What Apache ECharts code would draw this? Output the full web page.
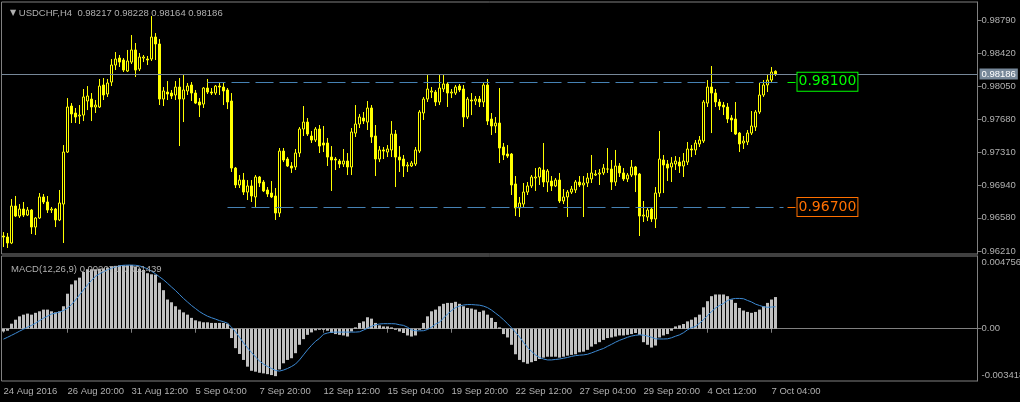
<!DOCTYPE html>
<html><head><meta charset="utf-8">
<script src="https://cdn.jsdelivr.net/npm/echarts@6/dist/echarts.min.js"></script>
<style>html,body{margin:0;padding:0;background:#000}#c{width:1020px;height:402px}</style>
</head><body><div id="c"></div><script>
const symbol = 'USDCHF', timeframe = 'H4';
const openP = [0.96377,0.96366,0.96299,0.96712,0.96600,0.96678,0.96611,0.96667,0.96477,0.96578,
0.96813,0.96757,0.96667,0.96678,0.96556,0.96734,0.97315,0.97829,0.97751,0.97717,
0.97728,0.97885,0.97907,0.97818,0.97818,0.98064,0.97963,0.98097,0.98287,0.98365,
0.98343,0.98220,0.98320,0.98455,0.98242,0.98365,0.98354,0.98354,0.98600,0.98522,
0.97907,0.97985,0.97974,0.97952,0.98041,0.97907,0.97997,0.98064,0.97974,0.97874,
0.97851,0.98030,0.97985,0.97974,0.98052,0.98041,0.98008,0.97885,0.97136,0.96947,
0.97002,0.96868,0.96936,0.96813,0.97036,0.96980,0.96891,0.96857,0.96824,0.96634,
0.97326,0.97237,0.97159,0.97148,0.97304,0.97572,0.97650,0.97494,0.97449,0.97572,
0.97416,0.97416,0.97259,0.97237,0.97215,0.97181,0.97215,0.97148,0.97527,0.97628,
0.97695,0.97650,0.97807,0.97494,0.97237,0.97338,0.97315,0.97338,0.97516,0.97259,
0.97237,0.97159,0.97159,0.97181,0.97326,0.97751,0.97907,0.97985,0.97985,0.97874,
0.98019,0.98075,0.97974,0.97974,0.98052,0.98019,0.97706,0.97896,0.97885,0.97907,
0.97874,0.98064,0.97684,0.97606,0.97639,0.97371,0.97293,0.97293,0.96958,0.96690,
0.96734,0.96868,0.96936,0.97025,0.97036,0.97114,0.96980,0.96991,0.96936,0.97002,
0.96768,0.96813,0.96868,0.96891,0.96980,0.96947,0.96969,0.97014,0.97058,0.97069,
0.97081,0.97125,0.97125,0.96980,0.97159,0.97081,0.97014,0.97058,0.97148,0.97069,
0.96600,0.96589,0.96678,0.96567,0.96857,0.97226,0.97181,0.97148,0.97181,0.97203,
0.97159,0.97203,0.97349,0.97338,0.97405,0.97438,0.97862,0.98041,0.97974,0.97874,
0.97840,0.97818,0.97695,0.97684,0.97527,0.97416,0.97427,0.97527,0.97594,0.97762,
0.97952,0.98064,0.98119,0.98217];
const highP = [0.96421,0.96410,0.96790,0.96824,0.96734,0.96757,0.96701,0.96678,0.96589,0.96857,
0.96846,0.96824,0.96701,0.96690,0.96891,0.97393,0.97918,0.97862,0.97807,0.97840,
0.98019,0.98052,0.97974,0.97896,0.98131,0.98142,0.98131,0.98354,0.98432,0.98399,
0.98365,0.98455,0.98622,0.98533,0.98421,0.98399,0.98388,0.98834,0.98644,0.98577,
0.98041,0.98108,0.98008,0.98108,0.98142,0.98175,0.98086,0.98097,0.98008,0.97918,
0.98041,0.98131,0.98030,0.98064,0.98097,0.98086,0.98030,0.97974,0.97148,0.97058,
0.97081,0.97002,0.97002,0.97058,0.97047,0.97002,0.96924,0.96991,0.96913,0.97360,
0.97360,0.97259,0.97203,0.97349,0.97594,0.97829,0.97695,0.97550,0.97594,0.97617,
0.97606,0.97472,0.97382,0.97259,0.97237,0.97349,0.97304,0.97583,0.97840,0.97740,
0.97762,0.97885,0.97840,0.97617,0.97382,0.97371,0.97393,0.97661,0.97561,0.97382,
0.97282,0.97203,0.97215,0.97371,0.97784,0.97930,0.98175,0.98041,0.98008,0.98175,
0.98175,0.98097,0.98019,0.98064,0.98075,0.98064,0.97930,0.97974,0.97941,0.97941,
0.98097,0.98131,0.97751,0.97706,0.98030,0.97416,0.97393,0.97304,0.97047,0.96813,
0.96969,0.96980,0.97058,0.97136,0.97148,0.97416,0.97125,0.97047,0.97025,0.97081,
0.96902,0.96891,0.96936,0.97002,0.97047,0.97047,0.97081,0.97282,0.97114,0.97125,
0.97181,0.97360,0.97226,0.97338,0.97192,0.97136,0.97081,0.97226,0.97159,0.97081,
0.96768,0.96690,0.96690,0.96924,0.97550,0.97282,0.97226,0.97259,0.97270,0.97259,
0.97304,0.97427,0.97393,0.97449,0.97494,0.97896,0.98119,0.98276,0.98019,0.97907,
0.97874,0.97862,0.97728,0.97874,0.97539,0.97494,0.97561,0.97773,0.97784,0.98086,
0.98119,0.98187,0.98265,0.98228];
const lowP = [0.96254,0.96243,0.96287,0.96589,0.96578,0.96589,0.96600,0.96399,0.96388,0.96567,
0.96734,0.96634,0.96634,0.96477,0.96544,0.96299,0.97304,0.97639,0.97639,0.97628,
0.97661,0.97784,0.97661,0.97751,0.97807,0.97896,0.97930,0.98052,0.98231,0.98265,
0.98209,0.98209,0.98298,0.98153,0.98220,0.98320,0.98287,0.98332,0.98343,0.97840,
0.97829,0.97896,0.97907,0.97896,0.97382,0.97650,0.97952,0.97885,0.97851,0.97706,
0.97807,0.97963,0.97952,0.97952,0.97952,0.97840,0.97795,0.97092,0.96913,0.96913,
0.96835,0.96779,0.96757,0.96690,0.96924,0.96868,0.96813,0.96801,0.96556,0.96589,
0.97203,0.97148,0.97081,0.97114,0.97259,0.97494,0.97494,0.97416,0.97427,0.97304,
0.97315,0.97159,0.96880,0.97114,0.97136,0.97148,0.97058,0.97058,0.97483,0.97583,
0.97628,0.97561,0.97416,0.97047,0.97203,0.97237,0.97259,0.97259,0.96924,0.97092,
0.97036,0.97092,0.97148,0.97159,0.97304,0.97673,0.97874,0.97918,0.97829,0.97840,
0.97985,0.97818,0.97918,0.97952,0.97985,0.97594,0.97684,0.97728,0.97840,0.97818,
0.97818,0.97617,0.97505,0.97527,0.97192,0.97226,0.97248,0.96835,0.96600,0.96589,
0.96701,0.96835,0.96913,0.96880,0.96947,0.96924,0.96868,0.96880,0.96924,0.96746,
0.96734,0.96589,0.96846,0.96857,0.96924,0.96589,0.96924,0.96969,0.97047,0.96947,
0.97058,0.97081,0.96891,0.96936,0.97036,0.96991,0.96980,0.97036,0.96868,0.96377,
0.96533,0.96544,0.96533,0.96466,0.96813,0.96857,0.96991,0.96980,0.97114,0.97081,
0.97036,0.97170,0.97259,0.97282,0.97371,0.97416,0.97818,0.97527,0.97818,0.97784,
0.97728,0.97639,0.97539,0.97505,0.97315,0.97349,0.97393,0.97505,0.97550,0.97740,
0.97930,0.97985,0.98086,0.98164];
const closeP = [0.96366,0.96299,0.96712,0.96600,0.96678,0.96611,0.96667,0.96477,0.96578,0.96813,
0.96757,0.96667,0.96678,0.96556,0.96746,0.97315,0.97818,0.97740,0.97706,0.97728,
0.97930,0.97941,0.97818,0.97840,0.98052,0.97952,0.98086,0.98287,0.98354,0.98320,
0.98231,0.98332,0.98455,0.98231,0.98376,0.98376,0.98343,0.98600,0.98522,0.97907,
0.97997,0.97963,0.97941,0.98041,0.97907,0.98008,0.98052,0.97974,0.97862,0.97840,
0.98030,0.97985,0.97974,0.98052,0.98041,0.97997,0.97874,0.97136,0.96947,0.97002,
0.96868,0.96936,0.96824,0.97036,0.96969,0.96880,0.96846,0.96813,0.96634,0.97326,
0.97226,0.97159,0.97136,0.97304,0.97572,0.97650,0.97516,0.97449,0.97572,0.97382,
0.97393,0.97259,0.97226,0.97226,0.97181,0.97215,0.97148,0.97539,0.97628,0.97706,
0.97661,0.97807,0.97483,0.97237,0.97338,0.97326,0.97349,0.97516,0.97259,0.97226,
0.97159,0.97170,0.97192,0.97338,0.97762,0.97907,0.98019,0.97997,0.97874,0.98030,
0.98075,0.97974,0.97985,0.98041,0.98008,0.97706,0.97907,0.97885,0.97907,0.97874,
0.98064,0.97661,0.97606,0.97639,0.97360,0.97282,0.97270,0.96947,0.96690,0.96746,
0.96868,0.96936,0.97036,0.97036,0.97136,0.96980,0.97103,0.96936,0.97002,0.96768,
0.96813,0.96868,0.96902,0.96980,0.96947,0.96969,0.97025,0.97081,0.97069,0.97081,
0.97136,0.97125,0.96980,0.97159,0.97081,0.97014,0.97058,0.97148,0.97058,0.96600,
0.96611,0.96667,0.96567,0.96857,0.97237,0.97170,0.97136,0.97192,0.97215,0.97159,
0.97215,0.97349,0.97338,0.97416,0.97449,0.97874,0.98041,0.97974,0.97874,0.97829,
0.97818,0.97684,0.97673,0.97516,0.97405,0.97438,0.97527,0.97606,0.97762,0.97952,
0.98064,0.98119,0.98209,0.98186];
const macdMain = [-0.00018,-0.00013,0.00033,0.00059,0.00081,0.00092,0.00099,0.00092,0.00104,0.00114,
0.00125,0.00125,0.00114,0.00107,0.00114,0.00147,0.00229,0.00290,0.00316,0.00334,
0.00371,0.00389,0.00389,0.00389,0.00393,0.00395,0.00400,0.00407,0.00411,0.00415,
0.00415,0.00415,0.00417,0.00407,0.00393,0.00384,0.00363,0.00356,0.00354,0.00301,
0.00252,0.00191,0.00173,0.00147,0.00125,0.00107,0.00092,0.00071,0.00055,0.00048,
0.00042,0.00042,0.00038,0.00038,0.00038,0.00038,0.00033,-0.00061,-0.00127,-0.00165,
-0.00204,-0.00248,-0.00275,-0.00281,-0.00288,-0.00292,-0.00297,-0.00303,-0.00310,-0.00266,
-0.00226,-0.00204,-0.00193,-0.00160,-0.00105,-0.00068,-0.00040,-0.00024,-0.00011,-0.00007,
-0.00007,-0.00013,-0.00028,-0.00035,-0.00040,-0.00044,-0.00051,-0.00018,0.00009,0.00038,
0.00048,0.00075,0.00066,0.00038,0.00022,0.00015,0.00015,0.00009,-0.00007,-0.00018,
-0.00028,-0.00044,-0.00051,-0.00044,-0.00007,0.00038,0.00081,0.00114,0.00125,0.00147,
0.00163,0.00169,0.00169,0.00176,0.00163,0.00147,0.00136,0.00132,0.00125,0.00110,
0.00119,0.00092,0.00071,0.00044,0.00009,-0.00035,-0.00057,-0.00105,-0.00167,-0.00204,
-0.00219,-0.00229,-0.00219,-0.00211,-0.00198,-0.00189,-0.00183,-0.00183,-0.00183,-0.00189,
-0.00183,-0.00176,-0.00171,-0.00167,-0.00154,-0.00150,-0.00138,-0.00117,-0.00101,-0.00088,
-0.00073,-0.00061,-0.00057,-0.00051,-0.00044,-0.00044,-0.00040,-0.00035,-0.00028,-0.00040,
-0.00088,-0.00105,-0.00123,-0.00110,-0.00057,-0.00044,-0.00035,-0.00013,0.00015,0.00022,
0.00031,0.00048,0.00059,0.00075,0.00092,0.00140,0.00180,0.00213,0.00224,0.00224,
0.00224,0.00213,0.00191,0.00169,0.00136,0.00119,0.00110,0.00104,0.00110,0.00125,
0.00147,0.00169,0.00191,0.002071];
const macdSignal = [-0.00068,-0.00056,-0.00043,-0.00030,-0.00016,-0.00003,0.00010,0.00022,0.00036,0.00053,
0.00069,0.00082,0.00096,0.00102,0.00109,0.00119,0.00135,0.00158,0.00188,0.00221,
0.00254,0.00287,0.00316,0.00343,0.00359,0.00372,0.00386,0.00395,0.00404,0.00411,
0.00415,0.00416,0.00416,0.00415,0.00411,0.00402,0.00392,0.00376,0.00359,0.00339,
0.00320,0.00297,0.00273,0.00250,0.00224,0.00198,0.00175,0.00152,0.00132,0.00112,
0.00096,0.00082,0.00072,0.00063,0.00053,0.00046,0.00036,0.00010,-0.00020,-0.00056,
-0.00092,-0.00125,-0.00155,-0.00185,-0.00211,-0.00231,-0.00247,-0.00260,-0.00273,-0.00277,
-0.00270,-0.00260,-0.00247,-0.00231,-0.00204,-0.00171,-0.00138,-0.00109,-0.00082,-0.00063,
-0.00036,-0.00028,-0.00023,-0.00022,-0.00022,-0.00022,-0.00022,-0.00022,-0.00022,-0.00020,
-0.00009,0.00003,0.00016,0.00026,0.00031,0.00033,0.00033,0.00033,0.00032,0.00026,
0.00022,0.00010,-0.00007,-0.00013,-0.00014,-0.00013,-0.00005,0.00010,0.00030,0.00043,
0.00069,0.00096,0.00119,0.00138,0.00148,0.00155,0.00158,0.00158,0.00156,0.00154,
0.00148,0.00138,0.00122,0.00102,0.00082,0.00059,0.00033,0.00007,-0.00023,-0.00053,
-0.00089,-0.00122,-0.00148,-0.00171,-0.00188,-0.00198,-0.00204,-0.00204,-0.00201,-0.00198,
-0.00193,-0.00188,-0.00181,-0.00176,-0.00173,-0.00171,-0.00167,-0.00158,-0.00148,-0.00138,
-0.00129,-0.00115,-0.00102,-0.00088,-0.00076,-0.00066,-0.00056,-0.00048,-0.00043,-0.00040,
-0.00042,-0.00048,-0.00056,-0.00066,-0.00067,-0.00067,-0.00066,-0.00059,-0.00049,-0.00040,
-0.00026,-0.00007,0.00007,0.00015,0.00036,0.00059,0.00086,0.00112,0.00135,0.00152,
0.00165,0.00185,0.00194,0.00198,0.00198,0.00196,0.00185,0.00175,0.00161,0.00152,
0.00144,0.00140,0.00142,0.001439];
const priceTicks = [0.98790,0.98420,0.98050,0.97680,0.97310,0.96940,0.96580,0.96210];
const priceMin = 0.96176, priceMax = 0.98991;
const macdTicks = [-0.003418, 0, 0.004756];
const timeLabels = ['24 Aug 2016','26 Aug 20:00','31 Aug 12:00','5 Sep 04:00','7 Sep 20:00','12 Sep 12:00',
  '15 Sep 04:00','19 Sep 20:00','22 Sep 12:00','27 Sep 04:00','29 Sep 20:00','4 Oct 12:00','7 Oct 04:00'];
const labelEvery = 16;
const levelLines = [
  {value: 0.98100, color: '#00ff00', fromBar: 51},
  {value: 0.96700, color: '#ff7000', fromBar: 56}
];
const lineToBar = 195, tagFromBar = 196, tagToBar = 198, totalSlots = 244;

// bar times (H4, weekdays only), then empty future slots (chart shift)
const MON = ['Jan','Feb','Mar','Apr','May','Jun','Jul','Aug','Sep','Oct','Nov','Dec'];
const cats = [];
let t = Date.UTC(2016, 7, 24, 4);
while (cats.length < openP.length) {
  const d = new Date(t), wd = d.getUTCDay();
  if (wd !== 0 && wd !== 6) cats.push(d.getUTCDate() + ' ' + MON[d.getUTCMonth()] + ' ' + String(d.getUTCHours()).padStart(2,'0') + ':00');
  t += 4 * 3600e3;
}
for (let i = cats.length; i < totalSlots; i++) cats.push('slot' + i);

const N = openP.length, last = N - 1;
const FONT = "'Liberation Sans',Arial,sans-serif";
const FS = 9.5;
const TXT = '#b0b0b0', AX = '#808080';
const f5 = v => v.toFixed(5);
const showIdx = i => i % labelEvery === 0 && i < N;

const candles = openP.map((o, i) => [o, closeP[i], lowP[i], highP[i]]);

const markData = [
  {yAxis: closeP[last], lineStyle: {color: '#778899', type: 'solid', width: 1},
   label: {show: true, position: 'end', distance: 2, formatter: f5(closeP[last]),
     backgroundColor: '#778899', color: '#ffffff', padding: [1, 2, 0, 2],
     fontFamily: FONT, fontSize: FS}}
];
levelLines.forEach(l => {
  markData.push([{coord: [l.fromBar, l.value], lineStyle: {color: '#4682b4', type: [18, 6], width: 1}, label: {show: false}},
                 {coord: [lineToBar, l.value]}]);
  markData.push([{coord: [tagFromBar, l.value], lineStyle: {color: l.color, type: 'solid', width: 1},
                  label: {show: true, position: 'end', distance: 2, formatter: f5(l.value), color: l.color,
                    borderColor: l.color, borderWidth: 1, backgroundColor: '#000', padding: [2, 1, 1, 1],
                    fontFamily: "'DejaVu Sans',sans-serif", fontSize: 14, lineHeight: 15}},
                 {coord: [tagToBar, l.value]}]);
});

const chart = echarts.init(document.getElementById('c'), null, {renderer: 'canvas'});
chart.setOption({
  backgroundColor: '#000',
  animation: false,
  title: [
    {text: '{tri|▼} ' + symbol + ',' + timeframe + '  ' + [openP[last], highP[last], lowP[last], closeP[last]].map(f5).join(' '),
     left: 5, top: 3,
     textStyle: {color: TXT, fontFamily: FONT, fontSize: FS, fontWeight: 'normal',
       rich: {tri: {fontSize: 8, color: TXT, fontFamily: "'DejaVu Sans',sans-serif"}}}},
    {text: 'MACD(12,26,9) ' + macdMain[last].toFixed(6) + ' ' + macdSignal[last].toFixed(6),
     left: 6, top: 259, textStyle: {color: TXT, fontFamily: FONT, fontSize: FS, fontWeight: 'normal'}}
  ],
  grid: [
    {left: 1.5, top: 2, width: 976, height: 252, show: true, borderColor: AX, borderWidth: 1, outerBoundsMode: 'none', containLabel: false},
    {left: 1.5, top: 256, width: 976, height: 125, show: true, borderColor: AX, borderWidth: 1, outerBoundsMode: 'none', containLabel: false}
  ],
  xAxis: [
    {type: 'category', gridIndex: 0, data: cats, boundaryGap: true,
     axisLine: {show: false}, axisTick: {show: false}, axisLabel: {show: false}, splitLine: {show: false}},
    {type: 'category', gridIndex: 1, data: cats, boundaryGap: true,
     axisLine: {show: true, lineStyle: {color: AX}},
     axisTick: {show: true, alignWithLabel: true, interval: showIdx, length: 4, lineStyle: {color: AX}},
     axisLabel: {interval: showIdx, formatter: (v, i) => timeLabels[i / labelEvery], align: 'left',
       showMinLabel: true, color: TXT, fontFamily: FONT, fontSize: FS, margin: 5},
     splitLine: {show: false}}
  ],
  yAxis: [
    {type: 'value', gridIndex: 0, position: 'right', min: priceMin, max: priceMax,
     axisLine: {show: true, lineStyle: {color: AX}},
     axisTick: {show: true, customValues: priceTicks, length: 4, lineStyle: {color: AX}},
     axisLabel: {customValues: priceTicks, formatter: v => f5(v), color: TXT, fontFamily: FONT, fontSize: FS, margin: 4},
     splitLine: {show: false}},
    {type: 'value', gridIndex: 1, position: 'right', min: macdTicks[0], max: macdTicks[2],
     axisLine: {show: true, lineStyle: {color: AX}},
     axisTick: {show: true, customValues: [0], length: 4, lineStyle: {color: AX}},
     axisLabel: {customValues: macdTicks, margin: 4, color: TXT, fontFamily: FONT, fontSize: FS,
       formatter: v => Math.abs(v) < 1e-12 ? '0.00' : (v > 0 ? '{t|' + v.toFixed(6) + '}' : '{b|' + v.toFixed(6) + '}'),
       rich: {t: {padding: [13, 0, 0, 0], color: TXT, fontFamily: FONT, fontSize: FS},
              b: {padding: [0, 0, 12, 0], color: TXT, fontFamily: FONT, fontSize: FS}}},
     splitLine: {show: false}}
  ],
  series: [
    {type: 'candlestick', xAxisIndex: 0, yAxisIndex: 0, data: candles, barWidth: 2,
     itemStyle: {color: '#000000', color0: '#ffff00', borderColor: '#ffff00', borderColor0: '#ffff00',
       borderColorDoji: '#ffff00', borderWidth: 1},
     markLine: {symbol: 'none', silent: true, animation: false, precision: 5, data: markData}},
    {type: 'bar', xAxisIndex: 1, yAxisIndex: 1, data: macdMain, barWidth: 3,
     itemStyle: {color: '#c0c0c0'}},
    {type: 'line', xAxisIndex: 1, yAxisIndex: 1, data: macdSignal, symbol: 'none',
     lineStyle: {color: '#3d8ad4', width: 1}}
  ]
});
</script></body></html>
